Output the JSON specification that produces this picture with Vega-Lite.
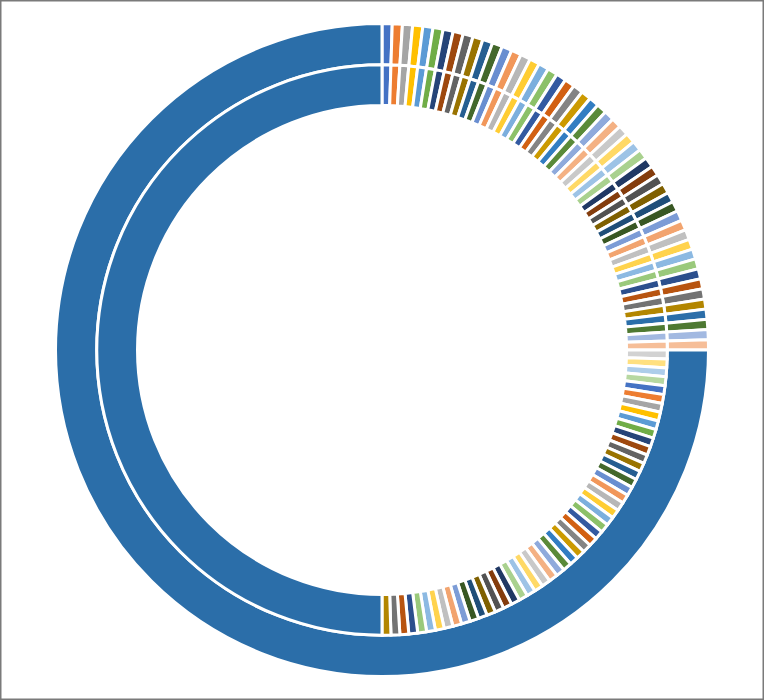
{
  "$schema": "https://vega.github.io/schema/vega-lite/v6.json",
  "width": 764,
  "height": 700,
  "autosize": {"type": "fit", "contains": "padding"},
  "padding": 0,
  "background": "white",
  "view": {"stroke": "#7a7a7a", "strokeWidth": 3, "fill": "white"},
  "data": {"values": [
    {"k":1,"o":1,"i":1},{"k":2,"o":1,"i":1},{"k":3,"o":1,"i":1},{"k":4,"o":1,"i":1},{"k":5,"o":1,"i":1},
    {"k":6,"o":1,"i":1},{"k":7,"o":1,"i":1},{"k":8,"o":1,"i":1},{"k":9,"o":1,"i":1},{"k":10,"o":1,"i":1},
    {"k":11,"o":1,"i":1},{"k":12,"o":1,"i":1},{"k":13,"o":1,"i":1},{"k":14,"o":1,"i":1},{"k":15,"o":1,"i":1},
    {"k":16,"o":1,"i":1},{"k":17,"o":1,"i":1},{"k":18,"o":1,"i":1},{"k":19,"o":1,"i":1},{"k":20,"o":1,"i":1},
    {"k":21,"o":1,"i":1},{"k":22,"o":1,"i":1},{"k":23,"o":1,"i":1},{"k":24,"o":1,"i":1},{"k":25,"o":1,"i":1},
    {"k":26,"o":1,"i":1},{"k":27,"o":1,"i":1},{"k":28,"o":1,"i":1},{"k":29,"o":1,"i":1},{"k":30,"o":1,"i":1},
    {"k":31,"o":1,"i":1},{"k":32,"o":1,"i":1},{"k":33,"o":1,"i":1},{"k":34,"o":1,"i":1},{"k":35,"o":1,"i":1},
    {"k":36,"o":1,"i":1},{"k":37,"o":1,"i":1},{"k":38,"o":1,"i":1},{"k":39,"o":1,"i":1},{"k":40,"o":1,"i":1},
    {"k":41,"o":1,"i":1},{"k":42,"o":1,"i":1},{"k":43,"o":1,"i":1},{"k":44,"o":1,"i":1},{"k":45,"o":1,"i":1},
    {"k":46,"o":1,"i":1},{"k":47,"o":1,"i":1},{"k":48,"o":1,"i":1},{"k":49,"o":1,"i":1},{"k":50,"o":1,"i":1},
    {"k":51,"o":0,"i":1},{"k":52,"o":0,"i":1},{"k":53,"o":0,"i":1},{"k":54,"o":0,"i":1},{"k":55,"o":0,"i":1},
    {"k":56,"o":0,"i":1},{"k":57,"o":0,"i":1},{"k":58,"o":0,"i":1},{"k":59,"o":0,"i":1},{"k":60,"o":0,"i":1},
    {"k":61,"o":0,"i":1},{"k":62,"o":0,"i":1},{"k":63,"o":0,"i":1},{"k":64,"o":0,"i":1},{"k":65,"o":0,"i":1},
    {"k":66,"o":0,"i":1},{"k":67,"o":0,"i":1},{"k":68,"o":0,"i":1},{"k":69,"o":0,"i":1},{"k":70,"o":0,"i":1},
    {"k":71,"o":0,"i":1},{"k":72,"o":0,"i":1},{"k":73,"o":0,"i":1},{"k":74,"o":0,"i":1},{"k":75,"o":0,"i":1},
    {"k":76,"o":0,"i":1},{"k":77,"o":0,"i":1},{"k":78,"o":0,"i":1},{"k":79,"o":0,"i":1},{"k":80,"o":0,"i":1},
    {"k":81,"o":0,"i":1},{"k":82,"o":0,"i":1},{"k":83,"o":0,"i":1},{"k":84,"o":0,"i":1},{"k":85,"o":0,"i":1},
    {"k":86,"o":0,"i":1},{"k":87,"o":0,"i":1},{"k":88,"o":0,"i":1},{"k":89,"o":0,"i":1},{"k":90,"o":0,"i":1},
    {"k":91,"o":0,"i":1},{"k":92,"o":0,"i":1},{"k":93,"o":0,"i":1},{"k":94,"o":0,"i":1},{"k":95,"o":0,"i":1},
    {"k":96,"o":0,"i":1},{"k":97,"o":0,"i":1},{"k":98,"o":0,"i":1},{"k":99,"o":0,"i":1},{"k":100,"o":0,"i":1},
    {"k":101,"o":150,"i":100}
  ]},
  "encoding": {
    "color": {
      "field": "k",
      "type": "nominal",
      "legend": null,
      "scale": {
        "domain": [1,2,3,4,5,6,7,8,9,10,11,12,13,14,15,16,17,18,19,20,21,22,23,24,25,26,27,28,29,30,31,32,33,34,35,36,37,38,39,40,41,42,43,44,45,46,47,48,49,50,51,52,53,54,55,56,57,58,59,60,61,62,63,64,65,66,67,68,69,70,71,72,73,74,75,76,77,78,79,80,81,82,83,84,85,86,87,88,89,90,91,92,93,94,95,96,97,98,99,100,101],
        "range": [
          "#4472C4","#ED7D31","#A5A5A5","#FFC000","#5B9BD5","#70AD47",
          "#264478","#9E480E","#636363","#997300","#255E91","#43682B",
          "#698ED0","#F1975A","#B7B7B7","#FFCD33","#7CAFDD","#8CC168",
          "#335AA1","#D26012","#848484","#CC9A00","#327DC2","#5A8A39",
          "#8FAADC","#F4B183","#C9C9C9","#FFD966","#9DC3E6","#A9D18E",
          "#203864","#843C0C","#525252","#7F6000","#1F4E79","#385723",
          "#7C9CD6","#F2A46F","#C0C0C0","#FFD34D","#8CB9E2","#9AC97B",
          "#2C4F8D","#B85410","#737373","#B38600","#2B6EA9","#4E7932",
          "#A2B9E1","#F6BE98","#D2D2D2","#FFE080","#ADCDEA","#B7D8A1",
          "#4472C4","#ED7D31","#A5A5A5","#FFC000","#5B9BD5","#70AD47",
          "#264478","#9E480E","#636363","#997300","#255E91","#43682B",
          "#698ED0","#F1975A","#B7B7B7","#FFCD33","#7CAFDD","#8CC168",
          "#335AA1","#D26012","#848484","#CC9A00","#327DC2","#5A8A39",
          "#8FAADC","#F4B183","#C9C9C9","#FFD966","#9DC3E6","#A9D18E",
          "#203864","#843C0C","#525252","#7F6000","#1F4E79","#385723",
          "#7C9CD6","#F2A46F","#C0C0C0","#FFD34D","#8CB9E2","#9AC97B",
          "#2C4F8D","#B85410","#737373","#B38600","#2B6EA9"
        ]
      }
    },
    "order": {"field": "k", "type": "quantitative"}
  },
  "layer": [
    {
      "transform": [{"filter": "datum.o > 0"}],
      "mark": {"type": "arc", "radius": 326.5, "radius2": 285.25, "stroke": "white", "strokeWidth": 3},
      "encoding": {"theta": {"field": "o", "type": "quantitative", "stack": true}}
    },
    {
      "mark": {"type": "arc", "radius": 285.25, "radius2": 244.5, "stroke": "white", "strokeWidth": 3},
      "encoding": {"theta": {"field": "i", "type": "quantitative", "stack": true}}
    }
  ]
}
